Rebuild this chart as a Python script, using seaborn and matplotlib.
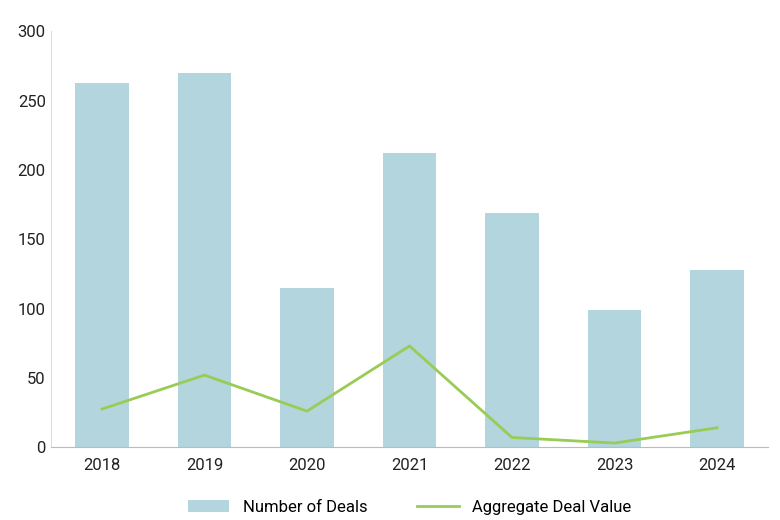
import pandas as pd
import seaborn as sns
from matplotlib import pyplot as plt

plt.rcParams["font.family"] = "Roboto"

years = ["2018", "2019", "2020", "2021", "2022", "2023", "2024"]
deals = [263, 270, 115, 212, 169, 99, 128]
deal_value = [27.5, 52, 26, 73, 7, 3, 14]

df = pd.DataFrame({"Year": years, "Deals": deals, "Value": deal_value})

fig, ax = plt.subplots(figsize=(7.8, 5.2), dpi=100)
sns.barplot(data=df, x="Year", y="Deals", color="#b3d5de", width=0.52,
            saturation=1, ax=ax, label="Number of Deals")
sns.lineplot(x=range(len(years)), y=df["Value"], color="#99cc55", linewidth=2,
             ax=ax, label="Aggregate Deal Value")

ax.set_ylim(0, 300)
ax.set_xlim(-0.5, 6.5)
ax.set_yticks(range(0, 301, 50))
ax.set_xlabel("")
ax.set_ylabel("")
ax.tick_params(axis="both", labelsize=12, colors="#222222", length=0)
ax.tick_params(axis="x", pad=8)
for s in ["top", "right"]:
    ax.spines[s].set_visible(False)
ax.spines["left"].set_color("#dddddd")
ax.spines["bottom"].set_color("#bbbbbb")

h, l = ax.get_legend_handles_labels()
order = [l.index("Number of Deals"), l.index("Aggregate Deal Value")]
ax.legend([h[i] for i in order], [l[i] for i in order],
          loc="upper center", bbox_to_anchor=(0.5, -0.09), ncol=2, frameon=False,
          fontsize=12, handlelength=2.5, columnspacing=3)

plt.subplots_adjust(left=0.065, right=0.985, top=0.94, bottom=0.14)
plt.savefig("out.png")
